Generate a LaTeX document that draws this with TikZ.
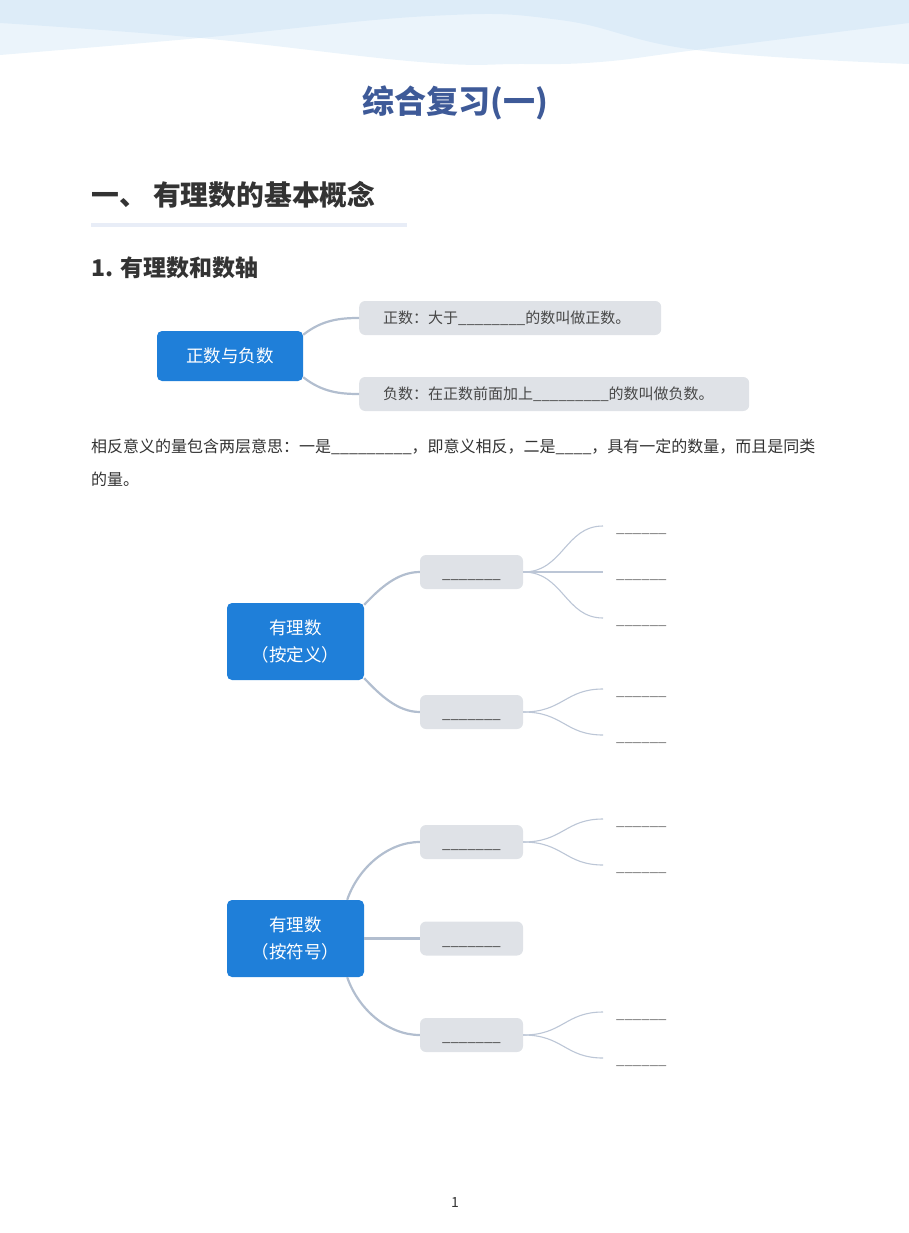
\documentclass[tikz,border=0pt]{standalone}
\usepackage{fontspec}
\setmainfont{Noto Sans CJK SC}
\usetikzlibrary{positioning}

\definecolor{wavecol}{RGB}{188,218,242}
\definecolor{titleblue}{RGB}{62,90,152}
\definecolor{rootblue}{RGB}{31,127,217}
\definecolor{topicgray}{RGB}{223,226,231}
\definecolor{branchcol}{RGB}{178,190,207}
\definecolor{twigcol}{RGB}{188,198,214}
\definecolor{textdark}{RGB}{51,51,51}
\definecolor{barcol}{RGB}{232,237,247}

\begin{document}
\begin{tikzpicture}[x=1pt, y=-1pt,
	rootbox/.style={fill=rootblue, text=white, rounded corners=5pt, align=center,
		inner sep=0pt, font=\fontsize{17.5}{27}\selectfont},
	topicbox/.style={fill=topicgray, text=black!72, rounded corners=6pt, inner sep=0pt,
		minimum height=34pt, font=\fontsize{15}{18}\selectfont},
	blank/.style={topicbox, minimum width=103pt, text height=15pt, text depth=2pt},
	leaf/.style={anchor=west, text=black!55, inner xsep=13pt, inner ysep=0pt,
		text height=15pt, text depth=2pt, font=\fontsize{15}{18}\selectfont},
	branch/.style={draw=branchcol, line width=2.2pt},
	twig/.style={draw=twigcol, line width=1.1pt}]
	
	\useasboundingbox (0,0) rectangle (909,1233);
	
	% Wellen oben
	\fill[wavecol, fill opacity=0.3] (0,0) -- plot[smooth, tension=0.7] coordinates
		{(0,23) (200,38) (420,62) (520,64) (600,62) (696,50) (909,23)} -- (909,0) -- cycle;
	\fill[wavecol, fill opacity=0.3] (0,0) -- plot[smooth, tension=0.7] coordinates
		{(0,55) (200,38) (430,16) (560,20) (696,50) (909,64)} -- (909,0) -- cycle;
	
	% Titel und Ueberschriften
	\node (title) at (455,103) {\fontsize{32}{38}\selectfont\bfseries\color{titleblue}综合复习(一)};
	\node[anchor=west, inner sep=0pt, text=textdark] (sec) at (91,195)
		{\fontsize{27.8}{32}\selectfont\bfseries 一、 有理数的基本概念};
	\fill[barcol] (91,223) rectangle (407,227);
	\node[anchor=west, inner sep=0pt, text=textdark] (subsec) at (91,268)
		{\fontsize{23}{28}\selectfont\bfseries 1. 有理数和数轴};
	
	% Positive und negative Zahlen
	\node[rootbox, minimum width=146pt, minimum height=50pt] (sign) at (230,356) {正数与负数};
	\node[topicbox, anchor=west, text width=254pt, inner xsep=24pt, align=left] (pos) at (359,318)
		{正数：大于\_\_\_\_\_\_\_\_的数叫做正数。};
	\node[topicbox, anchor=west, text width=342pt, inner xsep=24pt, align=left] (neg) at (359,394)
		{负数：在正数前面加上\_\_\_\_\_\_\_\_\_的数叫做负数。};
	\draw[branch] ([yshift=-4pt]sign.north east) .. controls +(19,-15) and +(-19,0) .. (pos.west);
	\draw[branch] ([yshift=4pt]sign.south east) .. controls +(19,15) and +(-19,0) .. (neg.west);
	
	% Text
	\node[anchor=west, inner sep=0pt, text=textdark, font=\fontsize{16}{20}\selectfont] (line1) at (91,447)
		{相反意义的量包含两层意思：一是\_\_\_\_\_\_\_\_\_，即意义相反，二是\_\_\_\_，具有一定的数量，而且是同类};
	\node[anchor=west, inner sep=0pt, text=textdark, font=\fontsize{16}{20}\selectfont] (line2) at (91,479)
		{的量。};
	
	% Rationale Zahlen nach Definition
	\node[rootbox, minimum width=137pt, minimum height=77pt] (def) at (295.5,641.5) {有理数\\（按定义）};
	\node[blank] (defA) at (471.5,572) {\_\_\_\_\_\_\_};
	\node[blank] (defB) at (471.5,712) {\_\_\_\_\_\_\_};
	\draw[branch] ([yshift=-2pt]def.north east) .. controls +(16,-17) and +(-22,0) .. (defA.west);
	\draw[branch] ([yshift=2pt]def.south east) .. controls +(16,17) and +(-22,0) .. (defB.west);
	
	\node[leaf] (a1) at (603,526) {\_\_\_\_\_\_};
	\node[leaf] (a2) at (603,572) {\_\_\_\_\_\_};
	\node[leaf] (a3) at (603,618) {\_\_\_\_\_\_};
	\node[leaf] (b1) at (603,689) {\_\_\_\_\_\_};
	\node[leaf] (b2) at (603,735) {\_\_\_\_\_\_};
	\foreach \l in {a1,a2,a3}
		\draw[twig] (defA.east) .. controls +(40,0) and +(-38,0) .. (\l.west);
	\foreach \l in {b1,b2}
		\draw[twig] (defB.east) .. controls +(40,0) and +(-38,0) .. (\l.west);
	
	% Rationale Zahlen nach Vorzeichen
	\node[rootbox, minimum width=137pt, minimum height=77pt] (sgn) at (295.5,938.5) {有理数\\（按符号）};
	\node[blank] (sgnC) at (471.5,842) {\_\_\_\_\_\_\_};
	\node[blank] (sgnD) at (471.5,938.5) {\_\_\_\_\_\_\_};
	\node[blank] (sgnE) at (471.5,1035) {\_\_\_\_\_\_\_};
	\draw[branch] ([xshift=-17pt]sgn.north east) .. controls +(11,-32) and +(-32,0) .. (sgnC.west);
	\draw[branch] (sgn.east) -- (sgnD.west);
	\draw[branch] ([xshift=-17pt]sgn.south east) .. controls +(11,32) and +(-32,0) .. (sgnE.west);
	
	\node[leaf] (c1) at (603,819) {\_\_\_\_\_\_};
	\node[leaf] (c2) at (603,865) {\_\_\_\_\_\_};
	\node[leaf] (e1) at (603,1012) {\_\_\_\_\_\_};
	\node[leaf] (e2) at (603,1058) {\_\_\_\_\_\_};
	\foreach \l in {c1,c2}
		\draw[twig] (sgnC.east) .. controls +(40,0) and +(-38,0) .. (\l.west);
	\foreach \l in {e1,e2}
		\draw[twig] (sgnE.east) .. controls +(40,0) and +(-38,0) .. (\l.west);
	
	% Seitenzahl
	\node[text=textdark, font=\fontsize{14}{16}\selectfont] (page) at (455,1202) {1};
	
\end{tikzpicture}
\end{document}
